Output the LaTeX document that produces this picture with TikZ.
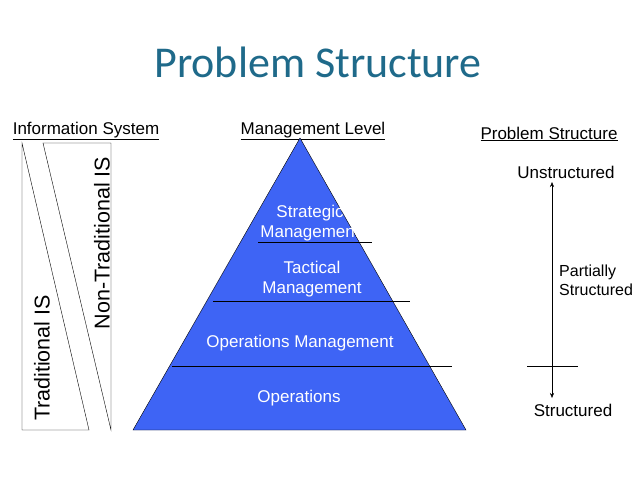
\documentclass[tikz,border=0pt]{standalone}
\usepackage{fontspec}
\setmainfont{Liberation Sans}
\newfontfamily\titlefont{Carlito}
\usetikzlibrary{arrows.meta}
\definecolor{teal1}{HTML}{1F6A8A}
\definecolor{pyr}{HTML}{3E64F5}
\tikzset{lbl/.style={font=\fontsize{17}{20}\selectfont,align=center,inner sep=0},
 plbl/.style={lbl,text=white},
 rot/.style={font=\fontsize{21.5}{24}\selectfont,rotate=90,inner sep=0}}
\begin{document}
\begin{tikzpicture}[x=1pt,y=-1pt]
\useasboundingbox (0,0) rectangle (638,479);
\fill[white] (0,0) rectangle (638,479);
\node[font=\titlefont\fontsize{44}{48}\selectfont,text=teal1] (title) at (318,62) {Problem Structure};
\node[lbl] (is) at (86,131) {\underline{Information System}};
\node[lbl] (ml) at (313,131) {\underline{Management Level}};
\node[lbl] (ps) at (549,134) {\underline{Problem Structure}};
% left shapes
\draw (22,143) -- (22,430) -- (89,430) -- cycle;
\draw (43,143) -- (111,143) -- (111,430) -- cycle;
\node[rot] (tis) at (42,358) {Traditional IS};
\node[rot] (ntis) at (102,243) {Non-Traditional IS};
% pyramid
\draw[fill=pyr] (300,138) -- (466,430) -- (133,430) -- cycle;
\draw (258,242) -- (372,242);
\draw (213,301) -- (410,301);
\draw (172,366) -- (452,366);
\node[plbl] (sm) at (310,223) {Strategic\\Management};
\node[plbl] (tm) at (312,279) {Tactical\\Management};
\node[plbl] (om) at (300,343) {Operations Management};
\node[plbl] (op) at (299,398) {Operations};
% right
\node[lbl] (un) at (566,172) {Unstructured};
\node[lbl] (st) at (573,410) {Structured};
\node[lbl,font=\fontsize{16}{19}\selectfont,align=left,anchor=west] (pa) at (559,280) {Partially\\Structured};
\draw[{Stealth[length=5pt,width=4pt]}-{Stealth[length=5pt,width=4pt]}] (552,182) -- (552,398);
\draw (527,366) -- (578,366);
\end{tikzpicture}
\end{document}
